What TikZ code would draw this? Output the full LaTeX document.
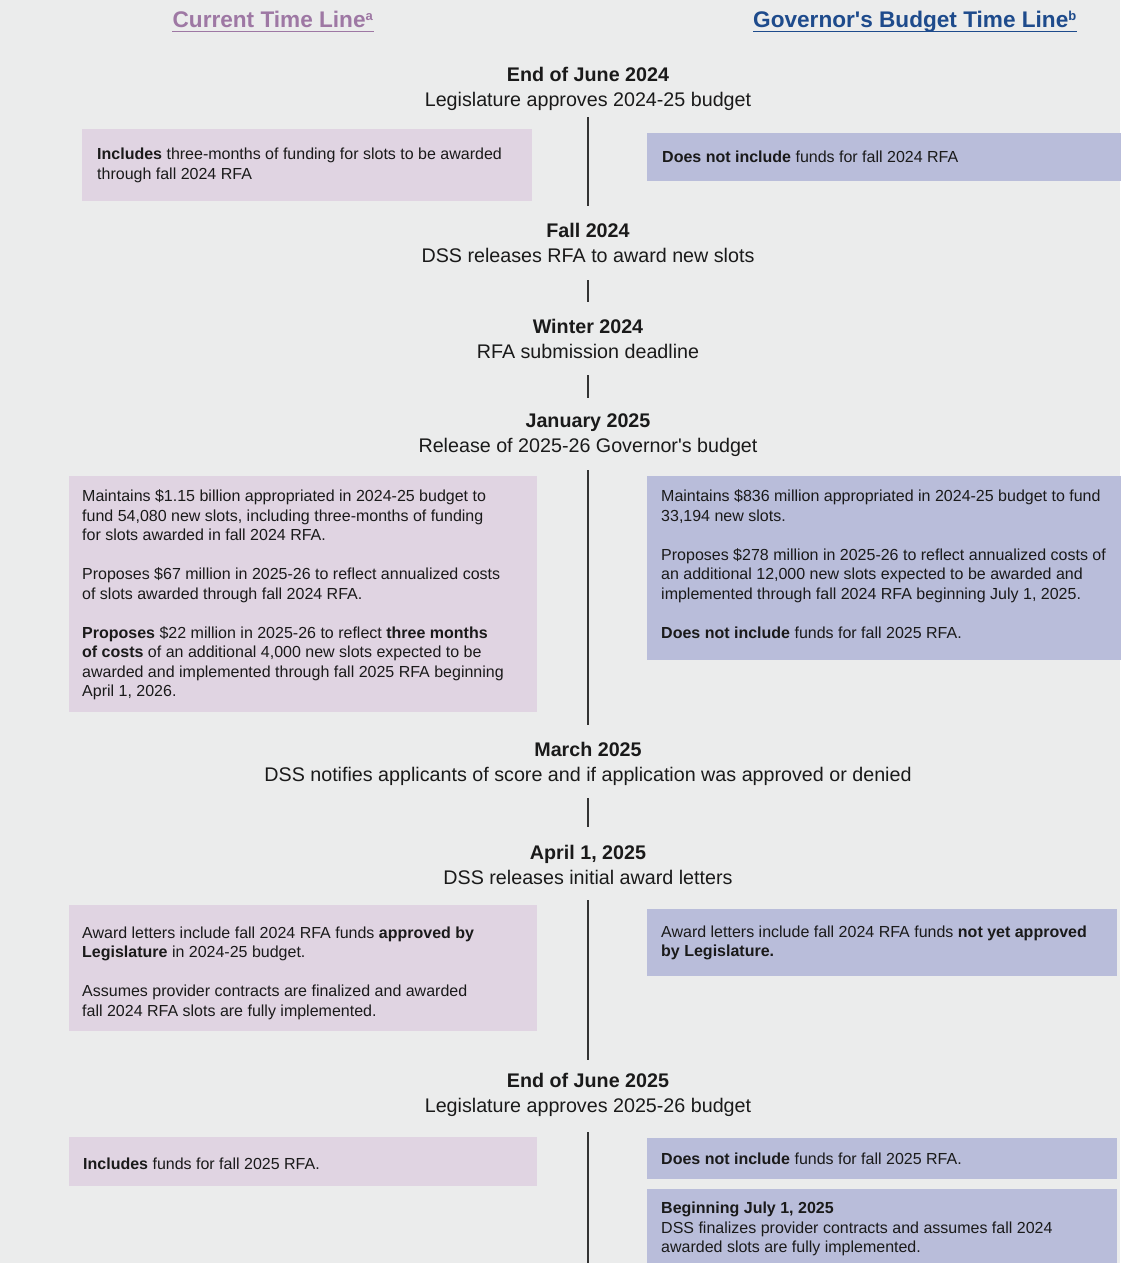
\documentclass[tikz,border=0pt]{standalone}
\usepackage{fontspec}
\setmainfont{Liberation Sans}[Ligatures=TeXOff]
\definecolor{bgc}{HTML}{EBECEC}
\definecolor{pinkc}{HTML}{E0D4E2}
\definecolor{bluec}{HTML}{B9BDDA}
\definecolor{hdrL}{HTML}{9E78A4}
\definecolor{hdrR}{HTML}{1E4B8C}
\definecolor{linec}{HTML}{333333}
\definecolor{txtc}{HTML}{1A1A1A}
\tikzset{
  pinkbox/.style={fill=pinkc, inner sep=0pt, anchor=north west},
  bluebox/.style={fill=bluec, inner sep=0pt, anchor=north west},
  boxtext/.style={inner sep=0pt, anchor=west, align=left, text=txtc,
    font=\fontsize{16}{19.5}\selectfont},
  event/.style={inner sep=0pt, align=center, text=txtc,
    font=\fontsize{19.7}{25}\selectfont},
  tline/.style={draw=linec, line width=1.6pt},
  hdr/.style={inner sep=0pt, anchor=base, font=\fontsize{22.6}{26}\selectfont\bfseries}
}
\newcommand{\gap}{\\[19.5pt]}
\begin{document}
\begin{tikzpicture}[x=1pt,y=-1pt]
\fill[bgc] (0,0) rectangle (1120,1263);
\useasboundingbox (0,0) rectangle (1120,1263);

% headers
\node[hdr, text=hdrL] (hl) at (273,28) {Current Time Line\textsuperscript{\fontsize{13}{14}\selectfont a}};
\draw[hdrL, line width=1.3pt] ([yshift=-3.5]hl.base west) -- ([yshift=-3.5]hl.base east);
\node[hdr, text=hdrR] (hr) at (915,28) {Governor's Budget Time Line\textsuperscript{\fontsize{13}{14}\selectfont b}};
\draw[hdrR, line width=1.3pt] ([yshift=-3.5]hr.base west) -- ([yshift=-3.5]hr.base east);

% events
\node[event] (e1) at (588,89) {\textbf{End of June 2024}\\Legislature approves 2024-25 budget};
\node[event] (e2) at (588,242.5) {\textbf{Fall 2024}\\DSS releases RFA to award new slots};
\node[event] (e3) at (588,339) {\textbf{Winter 2024}\\RFA submission deadline};
\node[event] (e4) at (588,435.5) {\textbf{January 2025}\\Release of 2025-26 Governor's budget};
\node[event] (e5) at (588,763.5) {\textbf{March 2025}\\DSS notifies applicants of score and if application was approved or denied};
\node[event] (e6) at (588,865) {\textbf{April 1, 2025}\\DSS releases initial award letters};
\node[event] (e7) at (588,1095) {\textbf{End of June 2025}\\Legislature approves 2025-26 budget};

% timeline segments
\coordinate (s1a) at (588,117);  \coordinate (s1b) at (588,206);
\coordinate (s2a) at (588,280);  \coordinate (s2b) at (588,302);
\coordinate (s3a) at (588,375);  \coordinate (s3b) at (588,398);
\coordinate (s4a) at (588,470);  \coordinate (s4b) at (588,725);
\coordinate (s5a) at (588,798);  \coordinate (s5b) at (588,827);
\coordinate (s6a) at (588,900);  \coordinate (s6b) at (588,1060);
\coordinate (s7a) at (588,1132); \coordinate (s7b) at (588,1263);
\foreach \s in {1,...,7} {\draw[tline] (s\s a) -- (s\s b);}

% boxes row 1
\node[pinkbox, minimum width=450, minimum height=72] (p1) at (82,129) {};
\node[boxtext] (p1t) at ([xshift=15]p1.west) {\textbf{Includes} three-months of funding for slots to be awarded\\through fall 2024 RFA};
\node[bluebox, minimum width=480, minimum height=48] (b1) at (647,133) {};
\node[boxtext] (b1t) at ([xshift=15]b1.west) {\textbf{Does not include} funds for fall 2024 RFA};

% boxes row 2
\node[pinkbox, minimum width=468, minimum height=236] (p2) at (69,476) {};
\node[boxtext] (p2t) at ([xshift=13,yshift=-1]p2.west) {Maintains \$1.15 billion appropriated in 2024-25 budget to\\fund 54,080 new slots, including three-months of funding\\for slots awarded in fall 2024 RFA.\gap
Proposes \$67 million in 2025-26 to reflect annualized costs\\of slots awarded through fall 2024 RFA.\gap
\textbf{Proposes} \$22 million in 2025-26 to reflect \textbf{three months}\\\textbf{of costs} of an additional 4,000 new slots expected to be\\awarded and implemented through fall 2025 RFA beginning\\April 1, 2026.};
\node[bluebox, minimum width=480, minimum height=184] (b2) at (647,476) {};
\node[boxtext] (b2t) at ([xshift=14,yshift=4]b2.west) {Maintains \$836 million appropriated in 2024-25 budget to fund\\33,194 new slots.\gap
Proposes \$278 million in 2025-26 to reflect annualized costs of\\an additional 12,000 new slots expected to be awarded and\\implemented through fall 2024 RFA beginning July 1, 2025.\gap
\textbf{Does not include} funds for fall 2025 RFA.};

% boxes row 3
\node[pinkbox, minimum width=468, minimum height=126] (p3) at (69,905) {};
\node[boxtext] (p3t) at ([xshift=13,yshift=-5]p3.west) {Award letters include fall 2024 RFA funds \textbf{approved by}\\\textbf{Legislature} in 2024-25 budget.\gap
Assumes provider contracts are finalized and awarded\\fall 2024 RFA slots are fully implemented.};
\node[bluebox, minimum width=470, minimum height=67] (b3) at (647,909) {};
\node[boxtext] (b3t) at ([xshift=14]b3.west) {Award letters include fall 2024 RFA funds \textbf{not yet approved}\\\textbf{by Legislature.}};

% boxes row 4
\node[pinkbox, minimum width=468, minimum height=49] (p4) at (69,1137) {};
\node[boxtext] (p4t) at ([xshift=14,yshift=-2]p4.west) {\textbf{Includes} funds for fall 2025 RFA.};
\node[bluebox, minimum width=470, minimum height=41] (b4) at (647,1138) {};
\node[boxtext] (b4t) at ([xshift=14]b4.west) {\textbf{Does not include} funds for fall 2025 RFA.};
\node[bluebox, minimum width=470, minimum height=80] (b5) at (647,1189) {};
\node[boxtext] (b5t) at ([xshift=14]b5.west) {\textbf{Beginning July 1, 2025}\\DSS finalizes provider contracts and assumes fall 2024\\awarded slots are fully implemented.};
\end{tikzpicture}
\end{document}
